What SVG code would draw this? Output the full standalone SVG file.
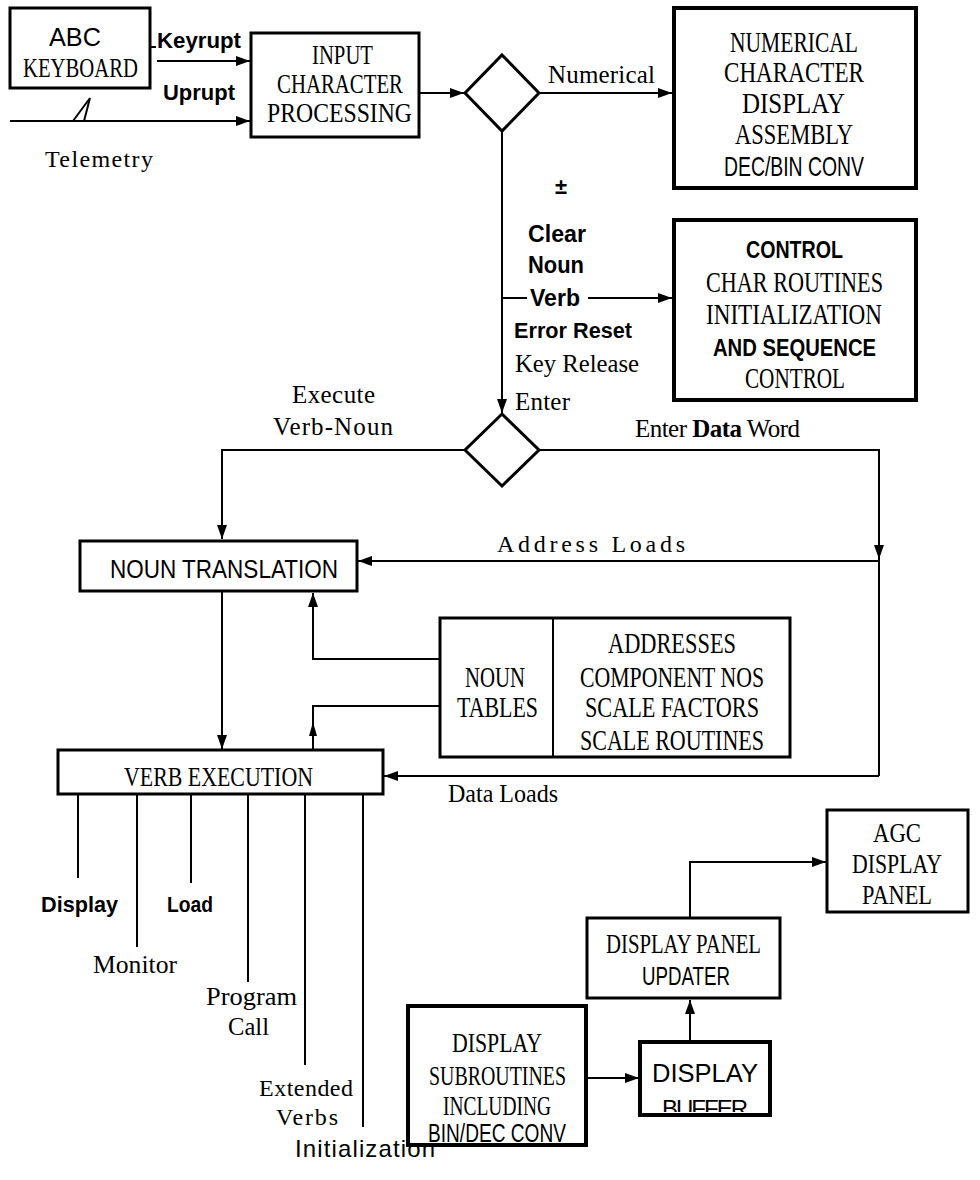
<svg xmlns="http://www.w3.org/2000/svg" width="980" height="1180" viewBox="0 0 980 1180">
<style>
.bx{fill:#fff;stroke:#000;stroke-width:3}
.bxh{fill:#fff;stroke:#000;stroke-width:4}
.ln{fill:none;stroke:#000;stroke-width:2}
.s{font-family:"Liberation Serif",serif;fill:#000}
.a{font-family:"Liberation Sans",sans-serif;fill:#000}
.b{font-family:"Liberation Sans",sans-serif;font-weight:bold;fill:#000}
</style>
<defs>
<marker id="ar" markerUnits="userSpaceOnUse" markerWidth="14" markerHeight="10" refX="14" refY="5" orient="auto">
<path d="M0,0 L14,5 L0,10 z" fill="#000"/>
</marker>
<clipPath id="bufclip"><rect x="640" y="1042" width="130" height="70"/></clipPath>
</defs>

<g id="connectors">
<path class="ln" d="M149,47 H156"/>
<path class="ln" d="M157,61 H250" marker-end="url(#ar)"/>
<path class="ln" d="M10,121 H250" marker-end="url(#ar)"/>
<path class="ln" d="M73,121 L90,98 L84,121"/>
<path class="ln" d="M418,93 H464" marker-end="url(#ar)"/>
<path class="ln" d="M539,93 H672" marker-end="url(#ar)"/>
<path class="ln" d="M502,131 V413" marker-end="url(#ar)"/>
<path class="ln" d="M502,298 H527"/>
<path class="ln" d="M588,298 H672" marker-end="url(#ar)"/>
<path class="ln" d="M465,450 H222 V539" marker-end="url(#ar)"/>
<path class="ln" d="M539,450 H879 V559" marker-end="url(#ar)"/>
<path class="ln" d="M879,559 V776"/>
<path class="ln" d="M879,561 H358" marker-end="url(#ar)"/>
<path class="ln" d="M879,776 H384" marker-end="url(#ar)"/>
<path class="ln" d="M222,592 V749" marker-end="url(#ar)"/>
<path class="ln" d="M439,659 H313 V593" marker-end="url(#ar)"/>
<path class="ln" d="M313,751 V706 H439"/>
<path d="M313,722 L309,736 L317,736 z" fill="#000"/>
<path class="ln" d="M78,795 V878 M137,795 V947 M191,795 V883 M248,795 V982 M305,795 V1065 M363,795 V1127"/>
<path class="ln" d="M690,918 V862 H826" marker-end="url(#ar)"/>
<path class="ln" d="M690,1042 V1000" marker-end="url(#ar)"/>
<path class="ln" d="M586,1078 H639" marker-end="url(#ar)"/>
</g>

<g id="keyboard">
<rect class="bx" x="10" y="8" width="140" height="80"/>
<text class="a" x="49" y="46" font-size="26" textLength="52" lengthAdjust="spacingAndGlyphs">ABC</text>
<text class="s" x="23" y="77" font-size="28" textLength="115" lengthAdjust="spacingAndGlyphs">KEYBOARD</text>
</g>

<g id="labels-input">
<text class="b" x="157" y="48" font-size="22" textLength="84" lengthAdjust="spacingAndGlyphs">Keyrupt</text>
<text class="b" x="163" y="100" font-size="22" textLength="72" lengthAdjust="spacingAndGlyphs">Uprupt</text>
<text class="s" x="45" y="167" font-size="24" textLength="108" lengthAdjust="spacing">Telemetry</text>
</g>

<g id="input-processing">
<rect class="bx" x="251" y="33" width="168" height="104"/>
<text class="s" x="312" y="64" font-size="28" textLength="61" lengthAdjust="spacingAndGlyphs">INPUT</text>
<text class="s" x="277" y="93" font-size="28" textLength="126" lengthAdjust="spacingAndGlyphs">CHARACTER</text>
<text class="s" x="267" y="122" font-size="28" textLength="145" lengthAdjust="spacingAndGlyphs">PROCESSING</text>
</g>

<g id="decision-1">
<polygon class="bx" points="502,55 539,93 502,131 465,93"/>
</g>

<text class="s" x="548" y="83" font-size="25" textLength="107" lengthAdjust="spacing">Numerical</text>

<g id="numerical">
<rect class="bxh" x="674" y="8" width="242" height="180"/>
<text class="s" x="730" y="52" font-size="30" textLength="128" lengthAdjust="spacingAndGlyphs">NUMERICAL</text>
<text class="s" x="724" y="82" font-size="30" textLength="140" lengthAdjust="spacingAndGlyphs">CHARACTER</text>
<text class="s" x="742" y="113" font-size="30" textLength="103" lengthAdjust="spacingAndGlyphs">DISPLAY</text>
<text class="s" x="735" y="144" font-size="30" textLength="118" lengthAdjust="spacingAndGlyphs">ASSEMBLY</text>
<text class="a" x="724" y="176" font-size="28" textLength="140" lengthAdjust="spacingAndGlyphs">DEC/BIN CONV</text>
</g>

<g id="labels-control">
<text class="b" x="555" y="194" font-size="22">±</text>
<text class="b" x="528" y="242" font-size="24" textLength="58" lengthAdjust="spacingAndGlyphs">Clear</text>
<text class="b" x="528" y="273" font-size="24" textLength="56" lengthAdjust="spacingAndGlyphs">Noun</text>
<text class="b" x="530" y="306" font-size="24" textLength="50" lengthAdjust="spacingAndGlyphs">Verb</text>
<text class="b" x="514" y="338" font-size="22" textLength="118" lengthAdjust="spacingAndGlyphs">Error Reset</text>
<text class="s" x="515" y="372" font-size="25" textLength="124" lengthAdjust="spacingAndGlyphs">Key Release</text>
<text class="s" x="515" y="410" font-size="25" textLength="55" lengthAdjust="spacing">Enter</text>
</g>

<g id="control">
<rect class="bxh" x="674" y="220" width="242" height="180"/>
<text class="b" x="746" y="258" font-size="24" textLength="97" lengthAdjust="spacingAndGlyphs">CONTROL</text>
<text class="s" x="706" y="292" font-size="30" textLength="177" lengthAdjust="spacingAndGlyphs">CHAR ROUTINES</text>
<text class="s" x="706" y="324" font-size="30" textLength="176" lengthAdjust="spacingAndGlyphs">INITIALIZATION</text>
<text class="b" x="713" y="356" font-size="24" textLength="163" lengthAdjust="spacingAndGlyphs">AND SEQUENCE</text>
<text class="s" x="745" y="388" font-size="30" textLength="100" lengthAdjust="spacingAndGlyphs">CONTROL</text>
</g>

<g id="decision-2">
<polygon class="bx" points="502,414 539,450 502,486 465,450"/>
</g>

<g id="labels-decision-2">
<text class="s" x="292" y="403" font-size="25" textLength="83" lengthAdjust="spacing">Execute</text>
<text class="s" x="273" y="435" font-size="25" textLength="120" lengthAdjust="spacing">Verb-Noun</text>
<text class="s" x="635" y="437" font-size="25" textLength="165" lengthAdjust="spacing">Enter <tspan font-weight="bold">Data</tspan> Word</text>
<text class="s" x="497" y="552" font-size="24" textLength="188" lengthAdjust="spacing">Address Loads</text>
<text class="s" x="448" y="802" font-size="26" textLength="110" lengthAdjust="spacingAndGlyphs">Data Loads</text>
</g>

<g id="noun-translation">
<rect class="bx" x="80" y="541" width="277" height="50"/>
<text class="a" x="110" y="578" font-size="26" textLength="228" lengthAdjust="spacingAndGlyphs">NOUN TRANSLATION</text>
</g>

<g id="noun-tables">
<rect class="bx" x="440" y="618" width="350" height="139"/>
<line class="ln" x1="553" y1="618" x2="553" y2="757" stroke-width="3"/>
<text class="s" x="465" y="687" font-size="30" textLength="60" lengthAdjust="spacingAndGlyphs">NOUN</text>
<text class="s" x="457" y="717" font-size="30" textLength="81" lengthAdjust="spacingAndGlyphs">TABLES</text>
<text class="s" x="608" y="653" font-size="30" textLength="128" lengthAdjust="spacingAndGlyphs">ADDRESSES</text>
<text class="s" x="580" y="687" font-size="30" textLength="184" lengthAdjust="spacingAndGlyphs">COMPONENT NOS</text>
<text class="s" x="585" y="717" font-size="30" textLength="174" lengthAdjust="spacingAndGlyphs">SCALE FACTORS</text>
<text class="s" x="580" y="750" font-size="30" textLength="184" lengthAdjust="spacingAndGlyphs">SCALE ROUTINES</text>
</g>

<g id="verb-execution">
<rect class="bx" x="58" y="750" width="325" height="44"/>
<text class="s" x="124" y="786" font-size="28" textLength="189" lengthAdjust="spacingAndGlyphs">VERB EXECUTION</text>
</g>

<g id="verb-labels">
<text class="b" x="41" y="912" font-size="22" textLength="77" lengthAdjust="spacingAndGlyphs">Display</text>
<text class="b" x="167" y="912" font-size="22" textLength="46" lengthAdjust="spacingAndGlyphs">Load</text>
<text class="s" x="93" y="973" font-size="26" textLength="84" lengthAdjust="spacingAndGlyphs">Monitor</text>
<text class="s" x="206" y="1005" font-size="26" textLength="91" lengthAdjust="spacingAndGlyphs">Program</text>
<text class="s" x="228" y="1035" font-size="26" textLength="41" lengthAdjust="spacingAndGlyphs">Call</text>
<text class="s" x="259" y="1096" font-size="24" textLength="94" lengthAdjust="spacing">Extended</text>
<text class="s" x="276" y="1125" font-size="24" textLength="62" lengthAdjust="spacing">Verbs</text>
<text class="a" x="295" y="1157" font-size="24" textLength="140" lengthAdjust="spacing">Initialization</text>
</g>

<g id="agc-display-panel">
<rect class="bx" x="827" y="810" width="141" height="102"/>
<text class="s" x="873" y="842" font-size="28" textLength="48" lengthAdjust="spacingAndGlyphs">AGC</text>
<text class="s" x="852" y="873" font-size="28" textLength="90" lengthAdjust="spacingAndGlyphs">DISPLAY</text>
<text class="s" x="862" y="904" font-size="28" textLength="70" lengthAdjust="spacingAndGlyphs">PANEL</text>
</g>

<g id="display-panel-updater">
<rect class="bx" x="587" y="918" width="193" height="80"/>
<text class="s" x="606" y="953" font-size="28" textLength="155" lengthAdjust="spacingAndGlyphs">DISPLAY PANEL</text>
<text class="a" x="642" y="985" font-size="26" textLength="88" lengthAdjust="spacingAndGlyphs">UPDATER</text>
</g>

<g id="display-subroutines">
<rect class="bxh" x="408" y="1006" width="178" height="139"/>
<text class="s" x="452" y="1052" font-size="28" textLength="90" lengthAdjust="spacingAndGlyphs">DISPLAY</text>
<text class="s" x="429" y="1085" font-size="28" textLength="137" lengthAdjust="spacingAndGlyphs">SUBROUTINES</text>
<text class="s" x="443" y="1115" font-size="28" textLength="108" lengthAdjust="spacingAndGlyphs">INCLUDING</text>
<text class="a" x="428" y="1142" font-size="26" textLength="138" lengthAdjust="spacingAndGlyphs">BIN/DEC CONV</text>
</g>

<g id="display-buffer">
<rect class="bxh" x="640" y="1042" width="130" height="73"/>
<text class="a" x="652" y="1082" font-size="26" textLength="106" lengthAdjust="spacingAndGlyphs">DISPLAY</text>
<text class="a" x="662" y="1117" font-size="24" textLength="86" lengthAdjust="spacing" clip-path="url(#bufclip)">BUFFER</text>
</g>
</svg>
